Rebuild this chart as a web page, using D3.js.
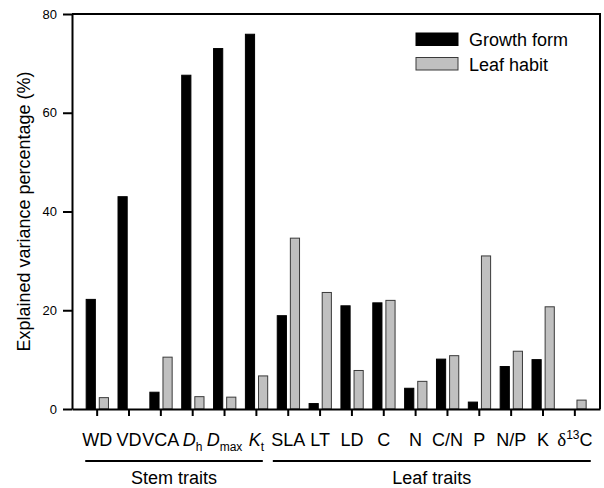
<!DOCTYPE html>
<html>
<head>
<meta charset="utf-8">
<script src="https://cdn.jsdelivr.net/npm/d3@7"></script>
<style>
    body { margin: 0; background: #fff; }
    svg { font-family: "Liberation Sans", Arial, sans-serif; }
</style>
</head>
<body>
<svg id="chart" width="604" height="488"></svg>
<script>
// categories, in plot order
const categories = ["WD", "VD", "VCA", "Dh", "Dmax", "Kt", "SLA", "LT", "LD", "C", "N", "C/N", "P", "N/P", "K", "d13C"];

// tick label pieces: [text, style] where style is "", "i" (italic), "sub", "sup" or "g" (greek)
const labelParts = {
    "WD": [["WD", ""]],
    "VD": [["VD", ""]],
    "VCA": [["VCA", ""]],
    "Dh": [["D", "i"], ["h", "sub"]],
    "Dmax": [["D", "i"], ["max", "sub"]],
    "Kt": [["K", "i"], ["t", "sub"]],
    "SLA": [["SLA", ""]],
    "LT": [["LT", ""]],
    "LD": [["LD", ""]],
    "C": [["C", ""]],
    "N": [["N", ""]],
    "C/N": [["C/N", ""]],
    "P": [["P", ""]],
    "N/P": [["N/P", ""]],
    "K": [["K", ""]],
    "d13C": [["δ", "g"], ["13", "sup"], ["C", ""]]
};

const seriesNames = ["Growth form", "Leaf habit"];
const growthForm = [22.2, 43.0, 3.4, 67.6, 73.0, 75.9, 18.9, 1.1, 20.9, 21.5, 4.2, 10.1, 1.4, 8.6, 10.0, 0];
const leafHabit = [2.3, 0, 10.5, 2.5, 2.4, 6.7, 34.6, 23.6, 7.8, 22.0, 5.6, 10.8, 31.0, 11.7, 20.7, 1.8];
const seriesColors = ["#000000", "#c0c0c0"];

const yTicks = [0, 20, 40, 60, 80];

const groups = [
    { name: "Stem traits", first: "WD", last: "Kt" },
    { name: "Leaf traits", first: "SLA", last: "d13C" }
];

const svg = d3.select("#chart");
const plotLeft = 72, plotRight = 600, plotTop = 14, plotBottom = 409;

const x = d3.scaleBand()
    .domain(categories)
    .range([plotLeft, plotRight])
    .paddingInner(0)
    .paddingOuter(0.29);

const xSub = d3.scaleBand()
    .domain(seriesNames)
    .range([x.bandwidth() * 0.155, x.bandwidth() * 0.855])
    .paddingInner(0.3);

const y = d3.scaleLinear()
    .domain([0, 80])
    .range([plotBottom, plotTop]);

// bars
const rows = categories.map((c, i) => ({ cat: c, values: [growthForm[i], leafHabit[i]] }));

const barGroup = svg.append("g").attr("class", "bars");
rows.forEach(row => {
    row.values.forEach((v, j) => {
        if (v <= 0) return;
        barGroup.append("rect")
            .attr("x", x(row.cat) + xSub(seriesNames[j]))
            .attr("y", y(v))
            .attr("width", xSub.bandwidth())
            .attr("height", y(0) - y(v))
            .attr("fill", seriesColors[j])
            .attr("stroke", j === 0 ? "#000" : "#3a3a3a")
            .attr("stroke-width", 1);
    });
});

// frame
svg.append("path")
    .attr("d", `M${plotLeft},${plotTop}H${plotRight}V${plotBottom}`)
    .attr("fill", "none")
    .attr("stroke", "#000")
    .attr("stroke-width", 2);

// y axis
const yAxis = svg.append("g")
    .attr("transform", `translate(${plotLeft},0)`)
    .call(d3.axisLeft(y).tickValues(yTicks).tickSize(9).tickPadding(6).tickSizeOuter(0));
yAxis.select(".domain").attr("stroke-width", 2);
yAxis.selectAll(".tick line").attr("stroke-width", 2);
yAxis.selectAll(".tick text")
    .attr("font-size", 13)
    .attr("font-family", "\"Liberation Sans\", Arial, sans-serif")
    .attr("fill", "#000");

// x axis
const xAxis = svg.append("g")
    .attr("transform", `translate(0,${plotBottom})`)
    .call(d3.axisBottom(x).tickSize(7).tickSizeOuter(0).tickFormat(""));
xAxis.select(".domain").attr("stroke-width", 2);
xAxis.selectAll(".tick line").attr("stroke-width", 2);

// category labels with italics / sub / superscripts
const labels = svg.append("g").attr("class", "xlabels");
categories.forEach(c => {
    const t = labels.append("text")
        .attr("x", x(c) + x.bandwidth() / 2)
        .attr("y", 446)
        .attr("text-anchor", "middle")
        .attr("font-size", 18)
        .attr("fill", "#000");
    let shift = 0;
    labelParts[c].forEach(([s, style]) => {
        const span = t.append("tspan").text(s);
        let target = 0;
        if (style === "i") span.attr("font-style", "italic");
        if (style === "g") span.attr("font-family", "\"Liberation Serif\", serif").attr("font-size", 19);
        if (style === "sub") { span.attr("font-size", 12); target = 5; }
        if (style === "sup") { span.attr("font-size", 12); target = -7; }
        if (target !== shift) { span.attr("dy", target - shift); shift = target; }
    });
});

// group brackets
groups.forEach((g, i) => {
    const x0 = i === 0 ? x(g.first) + 4 : x(g.first) + 0.5;
    const x1 = i === 0 ? x(g.last) + x.bandwidth() - 9.5 : x(g.last) + x.bandwidth();
    svg.append("line")
        .attr("x1", x0).attr("x2", x1)
        .attr("y1", 461).attr("y2", 461)
        .attr("stroke", "#000")
        .attr("stroke-width", 2);
    svg.append("text")
        .attr("x", (x0 + x1) / 2)
        .attr("y", 484)
        .attr("text-anchor", "middle")
        .attr("font-size", 18)
        .text(g.name);
});

// y title
svg.append("text")
    .attr("transform", `translate(30,${(plotTop + plotBottom) / 2}) rotate(-90)`)
    .attr("text-anchor", "middle")
    .attr("font-size", 18)
    .text("Explained variance percentage (%)");

// legend
const legend = svg.append("g").attr("transform", "translate(416,33)");
seriesNames.forEach((s, i) => {
    const row = legend.append("g").attr("transform", `translate(0,${i * 24.5})`);
    row.append("rect")
        .attr("width", 42)
        .attr("height", 12.5)
        .attr("fill", seriesColors[i])
        .attr("stroke", i === 0 ? "#000" : "#3a3a3a")
        .attr("stroke-width", 1);
    row.append("text")
        .attr("x", 53)
        .attr("y", 13)
        .attr("font-size", 18)
        .text(s);
});
</script>
</body>
</html>
